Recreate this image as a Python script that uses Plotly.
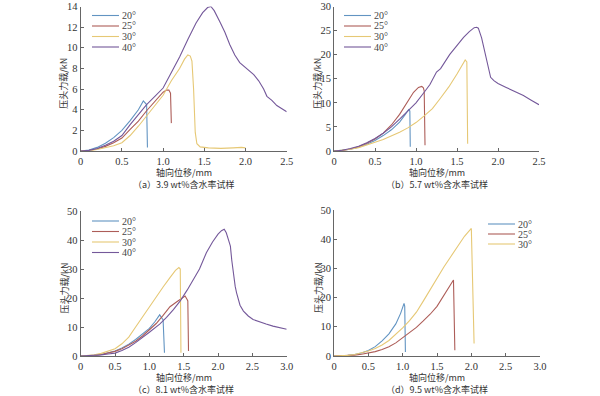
import plotly.graph_objects as go

# ---------------- data ----------------
names = ["20°", "25°", "30°", "40°"]
colors = ["#6294c2", "#ad5d58", "#e6c875", "#74589a"]

# (a) 3.9 wt%
a20_x = [0, 0.1, 0.2, 0.3, 0.4, 0.5, 0.6, 0.7, 0.76, 0.79, 0.80, 0.81]
a20_y = [0, 0.1, 0.35, 0.75, 1.3, 2.0, 2.95, 4.0, 4.85, 4.6, 4.5, 0.35]
a25_x = [0, 0.1, 0.2, 0.3, 0.4, 0.5, 0.6, 0.7, 0.8, 0.9, 1.0, 1.04, 1.07, 1.09, 1.095, 1.1]
a25_y = [0, 0.05, 0.2, 0.45, 0.8, 1.25, 2.1, 2.9, 3.9, 4.85, 5.7, 5.9, 5.9, 5.6, 4.0, 2.7]
a30_x = [0, 0.1, 0.2, 0.3, 0.4, 0.5, 0.6, 0.7, 0.8, 0.9, 1.0, 1.1, 1.2, 1.26, 1.3, 1.33, 1.35,
         1.37, 1.38, 1.39, 1.41, 1.45, 1.55, 1.7, 1.85, 1.95, 2.0]
a30_y = [0, 0.03, 0.15, 0.3, 0.5, 0.8, 1.5, 2.4, 3.4, 4.4, 5.4, 6.8, 8.0, 8.9, 9.3, 9.2, 8.7,
         6.0, 3.5, 1.8, 0.7, 0.4, 0.3, 0.25, 0.3, 0.35, 0.3]
a40_x = [0, 0.1, 0.2, 0.3, 0.4, 0.5, 0.6, 0.7, 0.8, 0.9, 1.0, 1.1, 1.2, 1.3, 1.4, 1.48, 1.54,
         1.58, 1.62, 1.69, 1.75, 1.81, 1.87, 1.93, 2.0, 2.05, 2.1, 2.16, 2.22, 2.26, 2.32,
         2.38, 2.44, 2.5]
a40_y = [0, 0.06, 0.25, 0.55, 0.95, 1.5, 2.55, 3.55, 4.5, 5.3, 6.1, 7.6, 9.1, 10.8, 12.4, 13.4,
         13.9, 14.0, 13.6, 12.5, 11.5, 10.3, 9.3, 8.56, 8.1, 7.8, 7.4, 6.8, 6.0, 5.3, 4.9,
         4.4, 4.1, 3.8]

# (b) 5.7 wt%
b20_x = [0, 0.1, 0.2, 0.3, 0.4, 0.5, 0.6, 0.7, 0.8, 0.87, 0.91, 0.925, 0.93]
b20_y = [0, 0.1, 0.35, 0.8, 1.4, 2.2, 3.2, 4.4, 6.0, 7.6, 8.6, 8.3, 0.9]
b25_x = [0, 0.1, 0.2, 0.3, 0.4, 0.5, 0.6, 0.7, 0.8, 0.9, 0.97, 1.03, 1.07, 1.09, 1.1, 1.11]
b25_y = [0, 0.1, 0.4, 0.9, 1.6, 2.5, 3.7, 5.4, 7.6, 10.3, 12.2, 13.2, 13.4, 13.1, 12.5, 1.2]
b30_x = [0, 0.1, 0.2, 0.3, 0.4, 0.5, 0.6, 0.7, 0.8, 0.9, 1.0, 1.1, 1.2, 1.3, 1.4, 1.5, 1.56,
         1.6, 1.62, 1.63]
b30_y = [0, 0.1, 0.35, 0.7, 1.2, 1.8, 2.4, 3.1, 3.9, 4.8, 5.9, 7.3, 8.8, 11.0, 13.3, 16.0,
         17.9, 18.9, 18.5, 1.5]
b40_x = [0, 0.1, 0.2, 0.3, 0.4, 0.5, 0.6, 0.7, 0.8, 0.9, 1.0, 1.1, 1.17, 1.25, 1.3, 1.41,
         1.5, 1.58, 1.65, 1.71, 1.74, 1.76, 1.8, 1.84, 1.87, 1.89, 1.91, 1.95, 2.0, 2.1,
         2.19, 2.31, 2.4, 2.5]
b40_y = [0, 0.15, 0.5, 1.0, 1.7, 2.6, 3.7, 5.0, 6.6, 8.3, 10.0, 12.2, 13.8, 16.4, 17.1, 20.0,
         22.0, 23.6, 24.8, 25.6, 25.7, 25.5, 23.5, 20.7, 18.5, 17.3, 15.3, 14.6, 14.0, 13.2,
         12.5, 11.5, 10.6, 9.6]

# (c) 8.1 wt%
c20_x = [0, 0.1, 0.2, 0.3, 0.4, 0.5, 0.6, 0.7, 0.8, 0.9, 1.0, 1.08, 1.15, 1.19, 1.2, 1.22]
c20_y = [0, 0.05, 0.2, 0.5, 1.0, 1.7, 2.8, 4.1, 5.7, 7.5, 9.5, 11.8, 14.2, 12.8, 12.5, 1.1]
c25_x = [0, 0.1, 0.2, 0.3, 0.4, 0.5, 0.6, 0.7, 0.8, 0.9, 1.0, 1.1, 1.2, 1.3, 1.4, 1.47,
         1.52, 1.55, 1.56, 1.57]
c25_y = [0, 0.05, 0.2, 0.5, 1.0, 1.6, 2.5, 3.7, 5.1, 6.9, 8.9, 11.2, 14.0, 17.0, 18.7, 19.8,
         20.7, 19.5, 19.0, 1.7]
c30_x = [0, 0.1, 0.2, 0.3, 0.4, 0.5, 0.6, 0.7, 0.8, 0.9, 1.0, 1.1, 1.2, 1.3, 1.38, 1.43,
         1.45, 1.46]
c30_y = [0, 0.1, 0.4, 0.9, 1.6, 2.5, 4.2, 6.5, 10.0, 13.5, 17.0, 20.3, 23.8, 27.0, 29.5,
         30.5, 30.0, 1.1]
c40_x = [0, 0.1, 0.2, 0.3, 0.4, 0.5, 0.6, 0.7, 0.8, 0.9, 1.0, 1.15, 1.25, 1.35, 1.45, 1.55,
         1.64, 1.73, 1.83, 1.92, 2.0, 2.05, 2.09, 2.12, 2.15, 2.18, 2.2, 2.22, 2.25, 2.27,
         2.32, 2.37, 2.44, 2.51, 2.6, 2.7, 2.8, 2.9, 3.0]
c40_y = [0, 0.05, 0.2, 0.4, 0.7, 1.0, 1.9, 3.0, 4.6, 6.3, 8.2, 11.0, 13.3, 16.0, 19.0, 22.7,
         26.4, 30.0, 35.6, 39.3, 42.0, 43.2, 43.7, 42.5, 40.2, 37.9, 33.0, 28.7, 24.0, 21.8,
         17.5, 15.5, 13.8, 12.6, 11.8, 11.0, 10.3, 9.7, 9.2]

# (d) 9.5 wt%
d20_x = [0, 0.1, 0.2, 0.3, 0.4, 0.5, 0.6, 0.7, 0.8, 0.9, 0.97, 1.02, 1.03, 1.04]
d20_y = [0, 0.05, 0.2, 0.5, 1.0, 1.9, 3.2, 5.2, 7.6, 11.0, 14.6, 18.0, 17.0, 1.4]
d25_x = [0, 0.1, 0.2, 0.3, 0.4, 0.5, 0.6, 0.7, 0.8, 0.9, 1.0, 1.1, 1.2, 1.3, 1.4, 1.5, 1.6,
         1.67, 1.74, 1.76]
d25_y = [0, 0.03, 0.1, 0.3, 0.6, 1.0, 1.5, 2.2, 3.2, 4.5, 6.2, 7.9, 9.8, 12.0, 14.3, 17.0,
         20.8, 23.5, 26.0, 2.0]
d30_x = [0, 0.1, 0.2, 0.3, 0.4, 0.5, 0.6, 0.7, 0.8, 0.9, 1.0, 1.1, 1.2, 1.3, 1.4, 1.5, 1.6,
         1.7, 1.8, 1.9, 2.0, 2.04]
d30_y = [0, 0.05, 0.2, 0.5, 1.0, 1.7, 2.6, 3.8, 5.3, 7.3, 9.6, 12.1, 15.0, 18.8, 22.8, 26.5,
         30.5, 34.0, 37.5, 41.0, 43.7, 4.3]

x_ticks_25 = [0, 0.5, 1.0, 1.5, 2.0, 2.5]
x_text_25 = ["0", "0.5", "1.0", "1.5", "2.0", "2.5"]
x_ticks_30 = [0, 0.5, 1.0, 1.5, 2.0, 2.5, 3.0]
x_text_30 = ["0", "0.5", "1.0", "1.5", "2.0", "2.5", "3.0"]

captions = ["（a）3.9 wt%含水率试样", "（b）5.7 wt%含水率试样",
            "（c）8.1 wt%含水率试样", "（d）9.5 wt%含水率试样"]
x_title = "轴向位移/mm"
y_title = "压头力载/kN"

panels = [
    dict(series=[(a20_x, a20_y), (a25_x, a25_y), (a30_x, a30_y), (a40_x, a40_y)],
         xr=[0, 2.5], yr=[0, 14], ydt=2, xt=(x_ticks_25, x_text_25)),
    dict(series=[(b20_x, b20_y), (b25_x, b25_y), (b30_x, b30_y), (b40_x, b40_y)],
         xr=[0, 2.5], yr=[0, 30], ydt=5, xt=(x_ticks_25, x_text_25)),
    dict(series=[(c20_x, c20_y), (c25_x, c25_y), (c30_x, c30_y), (c40_x, c40_y)],
         xr=[0, 3.0], yr=[0, 50], ydt=10, xt=(x_ticks_30, x_text_30)),
    dict(series=[(d20_x, d20_y), (d25_x, d25_y), (d30_x, d30_y)],
         xr=[0, 3.0], yr=[0, 50], ydt=10, xt=(x_ticks_30, x_text_30)),
]

# ---------------- layout geometry (pixels) ----------------
W, H = 600, 396
def PX(px):
    return px / W
def PY(py):
    return 1 - py / H

# plot area boxes: (left, right, top, bottom) in pixels
boxes = [(80.7, 286.7, 6.5, 151), (334, 539, 6.5, 151),
         (80.7, 286.7, 211, 356), (334, 540, 210, 356)]
# legend anchor: (line x0, line x1, first row y, row spacing)
legend_pos = [(92, 119, 15.5, 10.5), (344, 371, 15.5, 10.5),
              (92, 119, 221, 10.5), (488, 515, 224, 10)]
xtitle_y = [172.5, 172.5, 377, 377]
caption_y = [185, 185, 389.5, 389.5]
ytitle_x = [64, 318, 64, 318]

tick_font = dict(family="Liberation Serif", size=10.5, color="#333")
cjk_font = dict(family="Noto Sans CJK SC", size=9, color="#333")
leg_font = dict(family="Liberation Serif", size=10, color="#444")
axis_col = "#666"

fig = go.Figure()
layout = dict(width=W, height=H, margin=dict(l=0, r=0, t=0, b=0, autoexpand=False),
              paper_bgcolor="white", plot_bgcolor="white", showlegend=False)
annotations = []
shapes = []

for i, p in enumerate(panels):
    n = i + 1
    xa = "xaxis" if n == 1 else f"xaxis{n}"
    ya = "yaxis" if n == 1 else f"yaxis{n}"
    xr_ = "x" if n == 1 else f"x{n}"
    yr_ = "y" if n == 1 else f"y{n}"
    l, r, t, b = boxes[i]
    yticks = list(range(p["yr"][0], p["yr"][1] + 1, p["ydt"]))
    layout[xa] = dict(domain=[PX(l), PX(r)], range=p["xr"], anchor=yr_,
                      tickvals=p["xt"][0], ticktext=p["xt"][1], automargin=False,
                      showline=True, linecolor=axis_col, linewidth=1,
                      ticks="inside", ticklen=3, tickcolor=axis_col,
                      showgrid=False, zeroline=False, tickfont=tick_font)
    layout[ya] = dict(domain=[PY(b), PY(t)], range=p["yr"], anchor=xr_,
                      tickvals=yticks, automargin=False, ticklabeloverflow="allow",
                      showline=True, linecolor=axis_col, linewidth=1,
                      ticks="inside", ticklen=3, tickcolor=axis_col,
                      showgrid=False, zeroline=False, tickfont=tick_font)
    for k, (xs, ys) in enumerate(p["series"]):
        fig.add_trace(go.Scatter(x=xs, y=ys, mode="lines", name=names[k],
                                 line=dict(color=colors[k], width=1.1),
                                 xaxis=xr_, yaxis=yr_))
    # legend
    lx0, lx1, ly0, dy = legend_pos[i]
    for k in range(len(p["series"])):
        yy = ly0 + k * dy
        shapes.append(dict(type="line", xref="paper", yref="paper",
                           x0=PX(lx0), x1=PX(lx1), y0=PY(yy), y1=PY(yy),
                           line=dict(color=colors[k], width=1.1)))
        annotations.append(dict(xref="paper", yref="paper", x=PX(lx1 + 1), y=PY(yy),
                                text=names[k], showarrow=False, xanchor="left",
                                yanchor="middle", font=leg_font))
    cx = (l + r) / 2
    annotations.append(dict(xref="paper", yref="paper", x=PX(cx), y=PY(xtitle_y[i]),
                            text=x_title, showarrow=False, xanchor="center",
                            yanchor="middle", font=cjk_font))
    annotations.append(dict(xref="paper", yref="paper", x=PX(cx), y=PY(caption_y[i]),
                            text=captions[i], showarrow=False, xanchor="center",
                            yanchor="middle", font=cjk_font))
    annotations.append(dict(xref="paper", yref="paper", x=PX(ytitle_x[i]),
                            y=PY((t + b) / 2 + 5), text=y_title, showarrow=False,
                            textangle=-90, xanchor="center", yanchor="middle",
                            font=cjk_font))

layout["annotations"] = annotations
layout["shapes"] = shapes
fig.update_layout(**layout)
fig.write_html("out.html", config={"displayModeBar": False},
               post_script="document.body.style.margin='0';document.body.style.overflow='hidden';")
